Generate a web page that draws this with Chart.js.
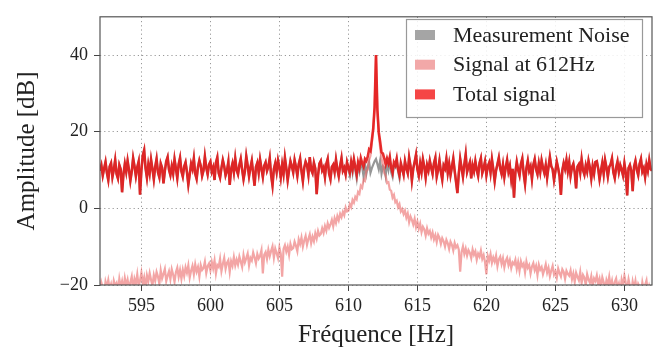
<!DOCTYPE html>
<html>
<head>
<meta charset="utf-8">
<script src="https://cdn.jsdelivr.net/npm/chart.js@4/dist/chart.umd.min.js"></script>
<style>
  body { margin: 0; background: #fff; }
</style>
</head>
<body>
<canvas id="spectrum" width="663" height="352"></canvas>
<script>
// sampling grid: 592 Hz to 632 Hz, one point every 0.1 Hz (rows of 2 Hz below)
const freqStart = 592;
const freqStep = 0.1;

// measurement noise [dB]
const noiseDb = [
  9.8, 11.2, 8.6, 10.4, 12.1, 9.3, 7.4, 10.9, 11.8, 8.2, 10.1, 12.6, 9.0, 7.8, 11.3, 10.2, 4.2, 8.9, 11.6, 9.5,
  12.4, 10.0, 7.2, 9.6, 13.1, 11.0, 8.4, 10.7, 12.2, 3.6, 9.9, 13.8, 15.2, 10.5, 8.0, 11.4, 9.2, 12.7, 10.3, 7.6,
  10.8, 12.9, 9.4, 8.1, 11.7, 10.6, 6.5, 9.8, 12.3, 13.4, 10.1, 8.7, 11.0, 9.1, 12.8, 10.4, 7.9, 11.5, 13.2, 9.7,
  8.3, 10.9, 12.0, 9.5, 6.2, 8.8, 11.6, 10.3, 13.0, 9.0, 7.7, 10.8, 12.5, 11.1, 8.5, 9.9, 13.5, 10.6, 8.9, 11.4,
  12.2, 9.6, 10.7, 7.4, 11.9, 13.3, 9.2, 8.0, 10.5, 12.6, 11.0, 8.6, 9.8, 12.1, 6.1, 10.2, 11.7, 9.4, 13.0, 10.0,
  8.9, 11.3, 12.9, 10.1, 7.6, 9.7, 13.6, 11.2, 8.4, 10.6, 12.4, 9.1, 5.9, 10.8, 11.9, 9.3, 12.7, 10.4, 8.2, 11.1,
  12.0, 9.8, 10.9, 13.1, 8.7, 6.0, 10.3, 11.8, 9.5, 12.5, 10.7, 8.1, 11.4, 9.0, 13.2, 10.5, 7.3, 9.9, 12.3, 11.0,
  9.4, 12.6, 10.8, 8.5, 11.5, 13.0, 9.7, 7.1, 10.6, 12.2, 11.3, 8.8, 13.4, 10.1, 9.2, 11.9, 10.4, 3.7, 8.6, 11.7,
  12.4, 9.9, 10.7, 8.2, 11.6, 12.9, 9.1, 7.6, 10.8, 11.4, 9.5, 12.7, 10.2, 8.4, 11.1, 13.1, 9.8, 10.6, 8.9, 12.0,
  10.3, 8.7, 11.8, 9.4, 12.5, 10.0, 7.8, 11.2, 9.6, 12.2, 10.7, 8.3, 11.5, 9.0, 10.9, 12.1, 9.3, 10.5, 11.4, 12.3,
  12.9, 11.6, 10.2, 12.4, 9.1, 11.0, 10.6, 8.5, 11.9, 10.1, 12.7, 9.4, 8.2, 11.3, 10.8, 12.6, 9.7, 7.9, 11.5, 10.0,
  8.8, 12.3, 10.5, 9.2, 13.3, 11.1, 7.3, 10.4, 12.1, 14.0, 10.2, 8.6, 11.7, 9.5, 12.8, 10.9, 8.1, 11.3, 9.9, 12.4,
  10.6, 9.0, 11.8, 13.2, 8.3, 10.1, 12.5, 9.6, 7.5, 11.2, 10.4, 12.9, 9.3, 11.6, 8.7, 10.8, 13.0, 9.8, 6.9, 4.0,
  9.1, 12.9, 10.6, 8.3, 11.4, 14.1, 9.5, 10.8, 12.0, 7.8, 11.2, 9.7, 12.3, 10.1, 8.5, 11.8, 13.1, 9.2, 10.5, 12.2,
  8.7, 10.9, 11.9, 9.3, 12.8, 10.2, 7.1, 9.9, 11.5, 13.2, 10.4, 9.0, 11.4, 8.2, 10.7, 12.6, 9.6, 11.1, 7.6, 10.3,
  2.8, 9.4, 12.1, 10.0, 8.6, 11.6, 13.0, 9.1, 6.4, 10.5, 12.4, 9.8, 10.9, 7.7, 11.3, 12.8, 10.2, 8.9, 11.7, 9.5,
  12.5, 10.6, 9.2, 11.3, 8.0, 10.8, 13.4, 11.0, 10.2, 7.4, 9.7, 12.2, 10.5, 8.4, 3.5, 9.9, 11.8, 10.3, 12.6, 9.7,
  12.0, 8.5, 10.7, 11.6, 9.4, 5.2, 10.9, 11.5, 9.3, 12.8, 10.0, 8.8, 11.2, 9.6, 12.4, 10.6, 7.8, 11.0, 9.1, 12.1,
  12.3, 10.4, 7.6, 9.8, 11.9, 9.0, 12.6, 10.7, 8.3, 10.8, 11.5, 13.0, 9.4, 7.9, 10.6, 12.2, 9.5, 11.3, 10.1, 8.6,
  11.7, 9.2, 3.4, 10.5, 11.3, 9.8, 4.5, 10.9, 12.4, 10.1, 8.7, 11.6, 12.9, 9.6, 10.5, 8.2, 11.4, 9.8, 12.6, 10.3,
  9.8
];

// signal at 612 Hz [dB]
const signalDb = [
  -21.6, -19.4, -20.8, -22.3, -19.1, -20.5, -18.7, -21.0, -19.8, -22.0, -18.9, -20.2, -19.5, -21.7, -18.4, -20.6, -19.0, -21.3, -18.2, -20.1,
  -18.6, -20.9, -19.3, -17.8, -21.2, -18.4, -19.7, -17.2, -20.3, -18.9, -16.8, -19.6, -18.0, -20.8, -17.5, -19.1, -16.9, -18.7, -20.1, -17.4,
  -18.9, -16.6, -17.8, -19.7, -16.2, -18.3, -17.1, -15.8, -19.0, -17.6, -16.4, -18.5, -15.9, -17.3, -19.2, -16.7, -15.5, -17.9, -16.1, -18.4,
  -16.0, -17.7, -15.4, -16.8, -14.9, -18.1, -16.3, -15.0, -17.2, -14.6, -16.5, -15.3, -17.8, -14.8, -16.1, -15.6, -13.9, -16.9, -15.1, -14.4,
  -16.2, -14.0, -15.7, -13.6, -17.0, -14.8, -15.3, -13.2, -16.4, -14.5, -12.9, -15.8, -14.2, -13.5, -16.6, -13.8, -15.0, -12.7, -14.9, -13.4,
  -14.7, -12.6, -13.9, -15.3, -12.2, -14.1, -13.0, -11.8, -14.9, -12.9, -13.6, -11.5, -12.8, -14.3, -11.9, -13.1, -12.4, -10.9, -17.0, -12.1,
  -11.4, -13.2, -10.8, -12.5, -11.1, -9.9, -12.9, -10.5, -11.7, -13.0, -10.2, -11.9, -17.8, -10.6, -9.6, -11.3, -10.0, -12.1, -9.3, -10.7,
  -10.4, -8.7, -9.8, -11.2, -8.1, -9.3, -7.6, -10.0, -8.4, -7.2, -9.5, -8.0, -6.8, -9.1, -7.4, -8.6, -6.5, -7.9, -5.9, -7.1,
  -6.7, -5.2, -6.4, -4.6, -5.8, -3.9, -5.1, -4.2, -3.0, -4.7, -2.6, -3.8, -2.0, -3.1, -1.4, -2.3, -0.9, -1.8, 0.2, -0.8,
  -0.6, 1.1, 0.3, 2.2, 1.5, 3.0, 2.4, 4.3, 3.8, 5.9, 5.4, 7.5, 7.2, 9.8, 10.1, 12.6, 13.7, 17.0, 20.4, 26.3,
  40.0, 25.6, 19.4, 15.8, 13.1, 11.6, 9.2, 8.5, 6.6, 6.8, 4.9, 4.6, 2.8, 3.5, 1.6, 2.0, 0.3, 1.1, -0.8, -0.2,
  -1.5, -0.6, -2.4, -1.3, -3.6, -2.1, -3.0, -4.2, -2.7, -4.9, -3.5, -5.3, -4.0, -6.2, -4.8, -5.5, -7.1, -5.2, -6.6, -5.9,
  -7.6, -6.3, -8.1, -7.0, -8.8, -6.9, -7.7, -9.3, -7.8, -8.6, -10.0, -8.2, -9.1, -10.6, -8.7, -9.5, -11.0, -9.0, -10.2, -9.6,
  -10.8, -16.5, -11.4, -9.9, -11.9, -10.5, -12.3, -10.9, -11.6, -13.0, -10.7, -12.1, -11.2, -13.4, -11.8, -12.6, -11.0, -13.2, -12.2, -14.0,
  -17.2, -12.4, -13.6, -11.9, -14.2, -12.8, -13.9, -12.3, -15.1, -13.3, -12.6, -14.5, -13.0, -15.4, -13.7, -12.9, -14.8, -13.5, -15.6, -14.1,
  -14.6, -13.4, -15.8, -14.0, -16.3, -13.8, -15.1, -14.4, -16.7, -13.9, -15.5, -14.8, -17.0, -15.2, -14.3, -16.1, -15.0, -17.4, -14.7, -16.0,
  -15.3, -17.2, -16.0, -14.6, -16.8, -15.5, -17.7, -16.2, -15.0, -17.3, -16.5, -18.1, -15.7, -16.9, -17.8, -15.9, -16.6, -18.4, -16.3, -17.1,
  -17.6, -16.2, -18.5, -17.0, -19.2, -16.8, -17.9, -18.8, -16.6, -19.5, -17.4, -18.1, -20.0, -17.2, -18.6, -19.4, -17.7, -20.3, -18.3, -19.0,
  -17.5, -19.8, -18.4, -20.6, -18.0, -19.3, -21.1, -18.7, -19.9, -17.8, -20.4, -18.9, -21.5, -19.2, -18.3, -20.7, -19.6, -21.8, -18.6, -20.1,
  -17.6, -19.4, -21.0, -18.5, -20.3, -22.1, -19.1, -20.8, -18.9, -21.6, -19.7, -20.5, -22.4, -19.3, -21.2, -20.0, -18.8, -21.9, -20.2, -21.4,
  -20.6
];

// total signal [dB] (equal to the noise away from 610-614 Hz)
const totalDb = [
  9.8, 11.2, 8.6, 10.4, 12.1, 9.3, 7.4, 10.9, 11.8, 8.2, 10.1, 12.6, 9.0, 7.8, 11.3, 10.2, 4.2, 8.9, 11.6, 9.5,
  12.4, 10.0, 7.2, 9.6, 13.1, 11.0, 8.4, 10.7, 12.2, 3.6, 9.9, 13.8, 15.2, 10.5, 8.0, 11.4, 9.2, 12.7, 10.3, 7.6,
  10.8, 12.9, 9.4, 8.1, 11.7, 10.6, 6.5, 9.8, 12.3, 13.4, 10.1, 8.7, 11.0, 9.1, 12.8, 10.4, 7.9, 11.5, 13.2, 9.7,
  8.3, 10.9, 12.0, 9.5, 6.2, 8.8, 11.6, 10.3, 13.0, 9.0, 7.7, 10.8, 12.5, 11.1, 8.5, 9.9, 13.5, 10.6, 8.9, 11.4,
  12.2, 9.6, 10.7, 7.4, 11.9, 13.3, 9.2, 8.0, 10.5, 12.6, 11.0, 8.6, 9.8, 12.1, 6.1, 10.2, 11.7, 9.4, 13.0, 10.0,
  8.9, 11.3, 12.9, 10.1, 7.6, 9.7, 13.6, 11.2, 8.4, 10.6, 12.4, 9.1, 5.9, 10.8, 11.9, 9.3, 12.7, 10.4, 8.2, 11.1,
  12.0, 9.8, 10.9, 13.1, 8.7, 6.0, 10.3, 11.8, 9.5, 12.5, 10.7, 8.1, 11.4, 9.0, 13.2, 10.5, 7.3, 9.9, 12.3, 11.0,
  9.4, 12.6, 10.8, 8.5, 11.5, 13.0, 9.7, 7.1, 10.6, 12.2, 11.3, 8.8, 13.4, 10.1, 9.2, 11.9, 10.4, 3.7, 8.6, 11.7,
  12.4, 9.9, 10.7, 8.2, 11.6, 12.9, 9.1, 7.6, 10.8, 11.4, 9.5, 12.7, 10.2, 8.4, 11.1, 13.1, 9.8, 10.6, 8.9, 12.0,
  10.6, 9.4, 12.1, 10.2, 12.8, 10.8, 8.9, 12.0, 10.6, 13.1, 11.8, 10.9, 12.9, 12.4, 13.5, 15.4, 15.0, 17.9, 20.9, 26.5,
  40.0, 25.8, 19.9, 17.4, 14.6, 14.3, 13.0, 11.5, 13.0, 11.8, 13.4, 10.6, 9.3, 12.0, 11.3, 13.0, 10.2, 8.7, 11.8, 10.4,
  8.8, 12.3, 10.5, 9.2, 13.3, 11.1, 7.3, 10.4, 12.1, 14.0, 10.2, 8.6, 11.7, 9.5, 12.8, 10.9, 8.1, 11.3, 9.9, 12.4,
  10.6, 9.0, 11.8, 13.2, 8.3, 10.1, 12.5, 9.6, 7.5, 11.2, 10.4, 12.9, 9.3, 11.6, 8.7, 10.8, 13.0, 9.8, 6.9, 4.0,
  9.1, 12.9, 10.6, 8.3, 11.4, 14.1, 9.5, 10.8, 12.0, 7.8, 11.2, 9.7, 12.3, 10.1, 8.5, 11.8, 13.1, 9.2, 10.5, 12.2,
  8.7, 10.9, 11.9, 9.3, 12.8, 10.2, 7.1, 9.9, 11.5, 13.2, 10.4, 9.0, 11.4, 8.2, 10.7, 12.6, 9.6, 11.1, 7.6, 10.3,
  2.8, 9.4, 12.1, 10.0, 8.6, 11.6, 13.0, 9.1, 6.4, 10.5, 12.4, 9.8, 10.9, 7.7, 11.3, 12.8, 10.2, 8.9, 11.7, 9.5,
  12.5, 10.6, 9.2, 11.3, 8.0, 10.8, 13.4, 11.0, 10.2, 7.4, 9.7, 12.2, 10.5, 8.4, 3.5, 9.9, 11.8, 10.3, 12.6, 9.7,
  12.0, 8.5, 10.7, 11.6, 9.4, 5.2, 10.9, 11.5, 9.3, 12.8, 10.0, 8.8, 11.2, 9.6, 12.4, 10.6, 7.8, 11.0, 9.1, 12.1,
  12.3, 10.4, 7.6, 9.8, 11.9, 9.0, 12.6, 10.7, 8.3, 10.8, 11.5, 13.0, 9.4, 7.9, 10.6, 12.2, 9.5, 11.3, 10.1, 8.6,
  11.7, 9.2, 3.4, 10.5, 11.3, 9.8, 4.5, 10.9, 12.4, 10.1, 8.7, 11.6, 12.9, 9.6, 10.5, 8.2, 11.4, 9.8, 12.6, 10.3,
  9.8
];

const xTicks = [595, 600, 605, 610, 615, 620, 625, 630];
const yTicks = [-20, 0, 20, 40];
const legendLabels = ["Measurement Noise", "Signal at 612Hz", "Total signal"];

const freqs = noiseDb.map((_, i) => +(freqStart + i * freqStep).toFixed(1));
const toPoints = (vals) => vals.map((v, i) => ({ x: freqs[i], y: v }));

const serif = "'Liberation Serif', 'DejaVu Serif', serif";
const colors = {
  noise: "rgb(150,150,150)",
  signal: "rgba(235,110,110,0.62)",
  total: "rgba(228,26,26,0.9)",
};
const patchColors = ["rgb(165,165,165)", "rgb(242,168,168)", "rgb(245,70,70)"];

// frame round the plot area and legend box in the upper right corner
const framePlugin = {
  id: "frame",
  afterDraw(chart) {
    const { ctx, chartArea: a } = chart;
    ctx.save();
    ctx.strokeStyle = "#555";
    ctx.lineWidth = 1.2;
    ctx.strokeRect(a.left, a.top, a.right - a.left, a.bottom - a.top);

    const bx = 406, by = 19, bw = 236, bh = 98;
    ctx.fillStyle = "rgba(255,255,255,0.85)";
    ctx.fillRect(bx, by, bw, bh);
    ctx.strokeStyle = "#999";
    ctx.lineWidth = 1.2;
    ctx.strokeRect(bx + 0.5, by + 0.5, bw, bh);

    ctx.font = "22px " + serif;
    ctx.textBaseline = "middle";
    ctx.textAlign = "left";
    legendLabels.forEach((label, i) => {
      const cy = 35 + i * 29.7;
      ctx.fillStyle = patchColors[i];
      ctx.fillRect(415, cy - 5, 20, 10);
      ctx.fillStyle = "#222";
      ctx.fillText(label, 453, cy + 1);
    });
    ctx.restore();
  },
};

new Chart(document.getElementById("spectrum"), {
  type: "line",
  data: {
    datasets: [
      {
        label: legendLabels[0],
        data: toPoints(noiseDb),
        borderColor: colors.noise,
        borderWidth: 2.2,
        order: 2,
      },
      {
        label: legendLabels[1],
        data: toPoints(signalDb),
        borderColor: colors.signal,
        borderWidth: 2.2,
        order: 1,
      },
      {
        label: legendLabels[2],
        data: toPoints(totalDb),
        borderColor: colors.total,
        borderWidth: 2.6,
        order: 0,
      },
    ],
  },
  options: {
    responsive: false,
    animation: false,
    devicePixelRatio: 1,
    clip: 0,
    elements: { point: { radius: 0 }, line: { tension: 0 } },
    layout: { padding: { top: 9, right: 11, left: 0, bottom: 0 } },
    plugins: { legend: { display: false }, tooltip: { enabled: false } },
    scales: {
      x: {
        type: "linear",
        min: 592,
        max: 632,
        afterFit: (s) => { s.height = 67; },
        afterBuildTicks: (s) => { s.ticks = xTicks.map((v) => ({ value: v })); },
        ticks: { font: { family: serif, size: 18 }, color: "#222", padding: 4, maxRotation: 0 },
        grid: { color: "#999", tickColor: "#444", tickLength: 6, lineWidth: 1 },
        border: { display: false, dash: [1.2, 3] },
        title: {
          display: true,
          text: "Fréquence [Hz]",
          font: { family: serif, size: 25 },
          color: "#222",
          padding: { top: 0, bottom: 2 },
        },
      },
      y: {
        min: -20,
        max: 50,
        afterFit: (s) => { s.width = 100; },
        afterBuildTicks: (s) => { s.ticks = yTicks.map((v) => ({ value: v })); },
        ticks: {
          font: { family: serif, size: 18 },
          color: "#222",
          padding: 6,
          callback: (v) => (v < 0 ? "\u2212" + Math.abs(v) : String(v)),
        },
        grid: { color: "#999", tickColor: "#444", tickLength: 6, lineWidth: 1 },
        border: { display: false, dash: [1.2, 3] },
        title: {
          display: true,
          text: "Amplitude [dB]",
          font: { family: serif, size: 25 },
          color: "#222",
          padding: { top: 12, bottom: 0 },
        },
      },
    },
  },
  plugins: [framePlugin],
});
</script>
</body>
</html>
